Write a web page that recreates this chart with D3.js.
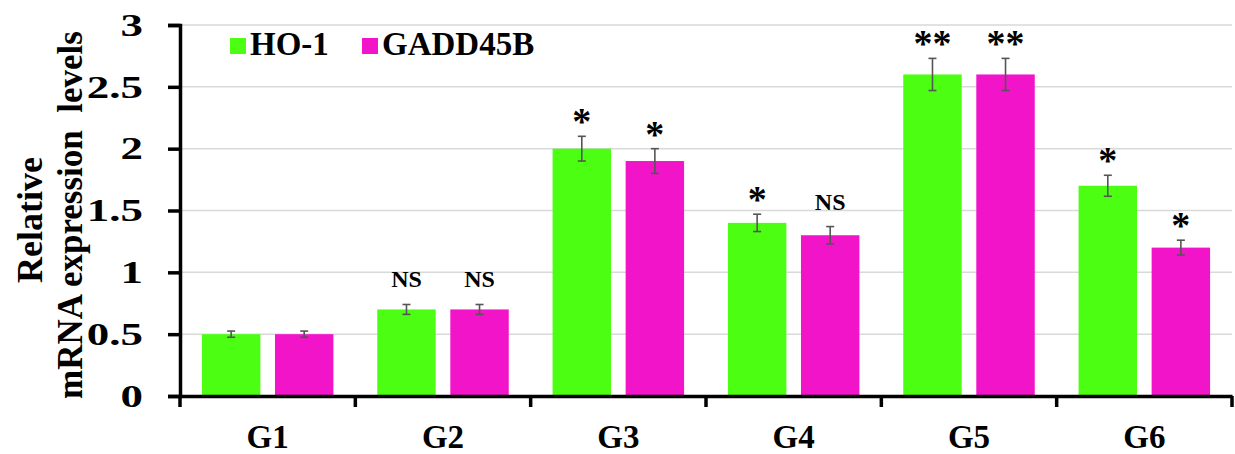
<!DOCTYPE html>
<html>
<head>
<meta charset="utf-8">
<script src="https://cdn.jsdelivr.net/npm/d3@7"></script>
<style>
  body { margin: 0; background: #fff; }
  text { font-family: 'Liberation Serif', serif; font-weight: bold; fill: #000; }
</style>
</head>
<body>
<script>
// chart data
var groups = ["G1", "G2", "G3", "G4", "G5", "G6"];
var seriesNames = ["HO-1", "GADD45B"];
var hoValues = [0.5, 0.7, 2.0, 1.4, 2.6, 1.7];
var hoErrors = [0.025, 0.04, 0.1, 0.07, 0.13, 0.085];
var gaddValues = [0.5, 0.7, 1.9, 1.3, 2.6, 1.2];
var gaddErrors = [0.025, 0.04, 0.1, 0.07, 0.13, 0.06];
var hoMarks = ["", "NS", "*", "*", "**", "*"];
var gaddMarks = ["", "NS", "*", "NS", "**", "*"];
var yTicks = [0, 0.5, 1, 1.5, 2, 2.5, 3];

function init() {
    var w = 1235, h = 454;
    var colors = ["#4cff12", "#f214c8"];
    var serif = "'Liberation Serif', serif";

    var svg = d3.select("body").append("svg")
        .attr("width", w)
        .attr("height", h);

    // scales
    var x0 = d3.scaleBand()
        .domain(groups)
        .range([180, 1232])
        .paddingInner(0.25)
        .paddingOuter(0.125);
    var x1 = d3.scaleBand()
        .domain(seriesNames)
        .range([0, x0.bandwidth()])
        .paddingInner(0.2);
    var y = d3.scaleLinear()
        .domain([0, 3])
        .range([396, 25]);

    // gridlines
    svg.append("g").selectAll("line")
        .data(yTicks.slice(1))
        .enter().append("line")
        .attr("x1", 180).attr("x2", 1232)
        .attr("y1", d => y(d)).attr("y2", d => y(d))
        .attr("stroke", "#d9d9d9")
        .attr("stroke-width", 1.5);

    // build rows per series
    var series = [
        { name: seriesNames[0], values: hoValues, errors: hoErrors, marks: hoMarks },
        { name: seriesNames[1], values: gaddValues, errors: gaddErrors, marks: gaddMarks }
    ];

    series.forEach(function(s, si) {
        var rows = groups.map((g, i) => ({ g: g, v: s.values[i], e: s.errors[i], m: s.marks[i] }));
        var cx = d => x0(d.g) + x1(s.name) + x1.bandwidth() / 2;

        svg.append("g").selectAll("rect")
            .data(rows)
            .enter().append("rect")
            .attr("x", d => x0(d.g) + x1(s.name))
            .attr("y", d => y(d.v))
            .attr("width", x1.bandwidth())
            .attr("height", d => y(0) - y(d.v))
            .attr("fill", colors[si]);

        // error bars
        var eb = svg.append("g")
            .attr("stroke", "#555")
            .attr("stroke-width", 1.6);
        eb.selectAll(".v").data(rows).enter().append("line")
            .attr("x1", cx).attr("x2", cx)
            .attr("y1", d => y(d.v + d.e)).attr("y2", d => y(d.v - d.e));
        eb.selectAll(".t").data(rows).enter().append("line")
            .attr("x1", d => cx(d) - 4).attr("x2", d => cx(d) + 4)
            .attr("y1", d => y(d.v + d.e)).attr("y2", d => y(d.v + d.e));
        eb.selectAll(".b").data(rows).enter().append("line")
            .attr("x1", d => cx(d) - 4).attr("x2", d => cx(d) + 4)
            .attr("y1", d => y(d.v - d.e)).attr("y2", d => y(d.v - d.e));

        // significance marks
        svg.append("g").selectAll("text")
            .data(rows.filter(d => d.m))
            .enter().append("text")
            .attr("x", cx)
            .attr("y", d => y(d.v + d.e) - (d.m == "NS" ? 17 : 2))
            .attr("text-anchor", "middle")
            .style("font-family", serif)
            .style("font-size", d => d.m == "NS" ? "24px" : "38px")
            .text(d => d.m);
    });

    // y axis
    var yAxis = d3.axisLeft(y)
        .tickValues(yTicks)
        .tickSize(12)
        .tickSizeOuter(12)
        .tickFormat(d3.format(""));
    var ya = svg.append("g")
        .attr("transform", "translate(180,0)")
        .call(yAxis);
    ya.select(".domain").attr("stroke-width", 3.5);
    ya.selectAll(".tick line").attr("stroke-width", 3.5);
    ya.selectAll(".tick text")
        .attr("x", -25.5)
        .attr("dy", "0.33em")
        .attr("transform", "scale(1.45,1)")
        .style("font-size", "31px")
        .style("font-family", serif)
        .style("font-weight", "bold");

    // x axis: labels centred, ticks at group boundaries
    var xa = svg.append("g")
        .attr("transform", "translate(0,396)")
        .call(d3.axisBottom(x0).tickSize(0).tickSizeOuter(0));
    xa.select(".domain").attr("stroke-width", 3.5);
    xa.selectAll(".tick text")
        .attr("y", 52)
        .attr("dy", null)
        .style("font-size", "33px")
        .style("font-family", serif)
        .style("font-weight", "bold");
    var gap = (x0.step() - x0.bandwidth()) / 2;
    var bounds = groups.map(g => x0(g) - gap).concat([x0.range()[1]]);
    xa.selectAll(".bound").data(bounds).enter().append("line")
        .attr("x1", d => d).attr("x2", d => d)
        .attr("y1", 0).attr("y2", 11)
        .attr("stroke", "#000")
        .attr("stroke-width", 3.5);

    // y axis title
    svg.append("text")
        .attr("transform", "translate(42,220) rotate(-90)")
        .attr("text-anchor", "middle")
        .style("font-family", serif)
        .style("font-size", "36px")
        .text("Relative");
    svg.append("text")
        .attr("transform", "translate(82,215) rotate(-90)")
        .attr("text-anchor", "middle")
        .style("font-family", serif)
        .style("font-size", "35px")
        .style("white-space", "pre")
        .text("mRNA expression  levels");

    // legend
    var legX = [230, 362];
    var leg = svg.append("g").selectAll("g")
        .data(seriesNames)
        .enter().append("g");
    leg.append("rect")
        .attr("x", (d, i) => legX[i])
        .attr("y", 38)
        .attr("width", 16).attr("height", 16)
        .attr("fill", (d, i) => colors[i]);
    leg.append("text")
        .attr("x", (d, i) => legX[i] + 20)
        .attr("y", 55)
        .style("font-family", serif)
        .style("font-size", "33px")
        .text(d => d);
}
window.onload = init;
</script>
</body>
</html>
